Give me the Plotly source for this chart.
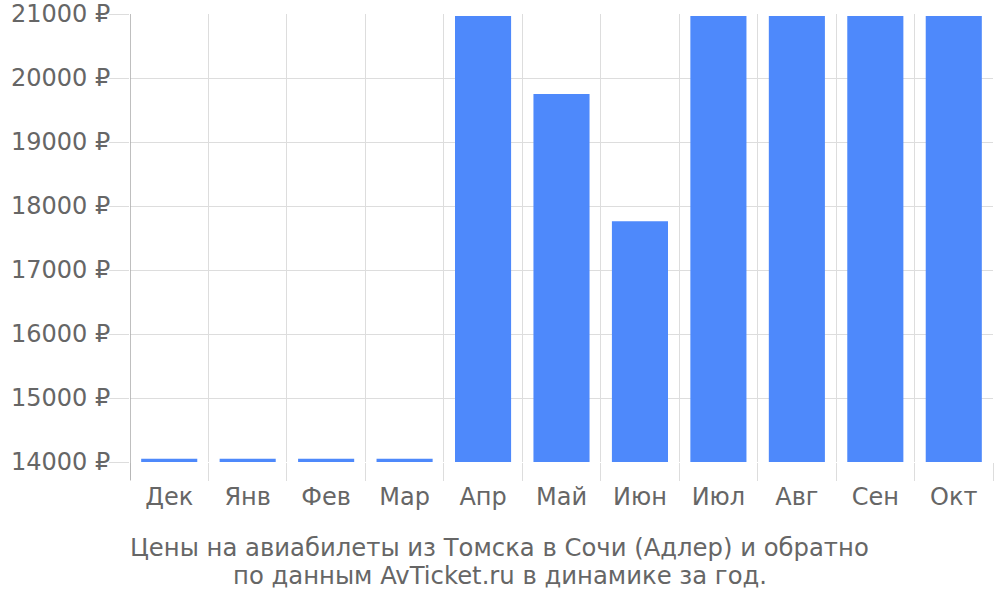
import plotly.graph_objects as go

months = ["Дек", "Янв", "Фев", "Мар", "Апр", "Май", "Июн", "Июл", "Авг", "Сен", "Окт"]
prices = [14050, 14050, 14050, 14050, 20970, 19750, 17760, 20970, 20970, 20970, 20970]
y_ticks = [14000, 15000, 16000, 17000, 18000, 19000, 20000, 21000]
y_labels = [f"{v} ₽" for v in y_ticks]
title_lines = ["Цены на авиабилеты из Томска в Сочи (Адлер) и обратно",
               "по данным AvTicket.ru в динамике за год."]

fig = go.Figure(go.Bar(x=months, y=prices, marker=dict(color="#4e89fb", line=dict(width=0))))
fig.update_layout(
    width=1000, height=600,
    margin=dict(l=130, r=7, t=14, b=138, autoexpand=False),
    paper_bgcolor="white", plot_bgcolor="white",
    font=dict(family="DejaVu Sans", size=24, color="#666666"),
    bargap=0.285,
    showlegend=False,
)
for i, line in enumerate(title_lines):
    fig.add_annotation(text=line, xref="paper", yref="paper",
                       x=(499.5 - 130) / 863, y=-(547 + 28 * i - 462) / 448,
                       xanchor="center", yanchor="middle", showarrow=False,
                       font=dict(size=24.3, color="#666666"))
fig.update_xaxes(type="category", tickson="boundaries", ticks="outside", ticklen=18,
                 tickcolor="#dddddd", tickwidth=1, showgrid=True, gridcolor="#dddddd",
                 showline=False, tickfont=dict(size=24), range=[-0.5, 10.5], automargin=False,
                 ticklabelstandoff=18)
fig.update_yaxes(range=[14000, 21000], tickvals=y_ticks, ticktext=y_labels,
                 ticks="outside", ticklen=20, tickcolor="#dddddd", showgrid=True,
                 gridcolor="#dddddd", showline=False, zeroline=False, tickfont=dict(size=24),
                 automargin=False, ticklabelstandoff=-6, ticklabeloverflow="allow")
fig.add_shape(type="line", xref="x", yref="paper", x0=-0.5, x1=-0.5, y0=-0.04, y1=1,
              line=dict(color="#aaaaaa", width=1.5))
fig.write_html("out.html", post_script="document.body.style.margin='0';",
               config={"displayModeBar": False})
